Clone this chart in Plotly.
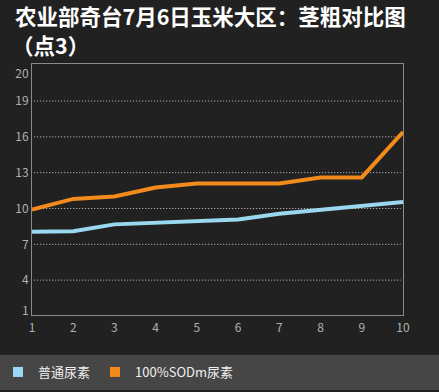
import plotly.graph_objects as go

# ---- data ----
days = [1, 2, 3, 4, 5, 6, 7, 8, 9, 10]
series_names = ["普通尿素", "100%SODm尿素"]
urea = [8.05, 8.1, 8.67, 8.8, 8.94, 9.08, 9.55, 9.88, 10.2, 10.55]
sodm = [9.9, 10.8, 11.0, 11.75, 12.1, 12.1, 12.1, 12.6, 12.6, 16.4]
grid_vals = [4, 7, 10, 13, 16, 19]
ytick_vals = [1.45, 4, 7, 10, 13, 16, 19, 21.25]
ytick_text = ["1", "4", "7", "10", "13", "16", "19", "20"]
title_lines = ["农业部奇台7月6日玉米大区：茎粗对比图", "（点3）"]

# ---- style ----
W, H = 439, 392
ML, MR, MT, MB = 32, 36, 64, 77
BG = "#212121"
BAND = "#464646"
BLUE = "#9ad8f0"
ORANGE = "#f28a1c"
FONT = "Noto Sans CJK SC"
plot_w = W - ML - MR
plot_h = H - MT - MB


def px_x(p):
    return (p - ML) / plot_w


def px_y(p):
    return (MT + plot_h - p) / plot_h


fig = go.Figure()
fig.add_trace(go.Scatter(x=days, y=urea, mode="lines", name=series_names[0],
                         line=dict(color=BLUE, width=4), showlegend=False))
fig.add_trace(go.Scatter(x=days, y=sodm, mode="lines", name=series_names[1],
                         line=dict(color=ORANGE, width=4), showlegend=False))
# legend proxies with square swatches
for nm, col in zip(series_names, [BLUE, ORANGE]):
    fig.add_trace(go.Scatter(x=[None], y=[None], mode="markers", name=nm,
                             marker=dict(symbol="square", size=10, color=col)))

shapes = []
# legend band
shapes.append(dict(type="rect", xref="paper", yref="paper", layer="below",
                   x0=px_x(0), x1=px_x(W), y0=px_y(390), y1=px_y(355),
                   fillcolor=BAND, line=dict(width=0)))
# dotted grid lines
for g in grid_vals:
    shapes.append(dict(type="line", xref="paper", yref="y", x0=0.006, x1=0.994, y0=g, y1=g,
                       line=dict(color="#d0d0d0", width=1, dash="1px,2px"), layer="below"))

annotations = []
for i, (t, xp) in enumerate(zip(title_lines, [13, 10])):
    annotations.append(dict(text=t, xref="paper", yref="paper",
                            x=px_x(xp), y=px_y(15.5 + 28.5 * i), xanchor="left", yanchor="middle",
                            align="left", showarrow=False,
                            font=dict(family=FONT, size=21.5, color="#ffffff", weight="bold")))

fig.update_layout(
    width=W, height=H,
    margin=dict(l=ML, r=MR, t=MT, b=MB, autoexpand=False),
    paper_bgcolor=BG, plot_bgcolor=BG,
    font=dict(family=FONT, color="#b0b0b0", size=12),
    shapes=shapes,
    annotations=annotations,
    showlegend=True,
    legend=dict(orientation="h", x=px_x(-2), xanchor="left", y=px_y(372),
                yanchor="middle", bgcolor="rgba(0,0,0,0)",
                font=dict(family=FONT, size=13, color="#f0f0f0"),
                itemwidth=30),
    xaxis=dict(range=[1, 10], tickvals=days, showgrid=False, zeroline=False,
               showline=True, mirror=True, linecolor="#8a8a8a", linewidth=1,
               ticks="", ticklabelstandoff=2, tickfont=dict(size=12, color="#b0b0b0")),
    yaxis=dict(range=[1.08, 22.1], tickvals=ytick_vals, ticktext=ytick_text,
               showgrid=False, zeroline=False,
               showline=True, mirror=True, linecolor="#8a8a8a", linewidth=1,
               ticks="", tickfont=dict(size=12, color="#b0b0b0")),
)

fig.write_html("out.html", config={"displayModeBar": False},
               post_script="document.body.style.margin='0px';document.body.style.background='%s';" % BG)
